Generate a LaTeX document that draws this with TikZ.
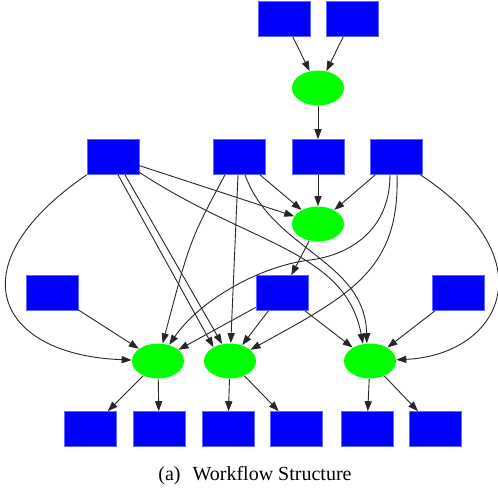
\documentclass[tikz,border=0pt]{standalone}
\usepackage{fontspec}
\setmainfont{Liberation Serif}
\usetikzlibrary{shapes.geometric,arrows.meta,calc}

\tikzset{
  data/.style={rectangle,fill=blue,draw=blue!60!white,line width=0.3pt,
    minimum width=26pt,minimum height=17.5pt,inner sep=0pt},
  job/.style={ellipse,fill=green,minimum width=26pt,minimum height=17.5pt,inner sep=0pt},
  dep/.style={-{Triangle[length=5pt,width=3.6pt]},line width=0.45pt,black!85}
}

\begin{document}
\begin{tikzpicture}[x=0.5pt,y=-0.5pt]
  \useasboundingbox (0,0) rectangle (498,489);

  %inputs
  \node[data] (t1) at (284,19) {};
  \node[data] (t2) at (352,19) {};
  \node[job]  (j0) at (318,88) {};

  %second level
  \node[data] (a1) at (113,157) {};
  \node[data] (a2) at (239,157) {};
  \node[data] (a3) at (318,157) {};
  \node[data] (a4) at (396,157) {};
  \node[job]  (j1) at (318,224) {};

  %third level
  \node[data] (b1) at (52,293) {};
  \node[data] (b2) at (282,293) {};
  \node[data] (b3) at (458,293) {};

  \node[job] (j2) at (158,361) {};
  \node[job] (j3) at (230,361) {};
  \node[job] (j4) at (370,361) {};

  %outputs
  \node[data] (o1) at (90,429) {};
  \node[data] (o2) at (159,429) {};
  \node[data] (o3) at (228,429) {};
  \node[data] (o4) at (296,429) {};
  \node[data] (o5) at (367,429) {};
  \node[data] (o6) at (435,429) {};

  \draw[dep] (t1) -- (j0);
  \draw[dep] (t2) -- (j0);
  \draw[dep] (j0) -- (a3);
  \draw[dep] (a3) -- (j1);
  \draw[dep] (a4) -- (j1);
  \draw[dep] (a2) -- (j1);
  \draw[dep] (a1) -- (j1);
  \draw[dep] (j1) -- (b2);

  %from a1
  \draw[dep] ($(a1.south)+(5,0)$) -- (j3.140);
  \draw[dep] ($(a1.south)+(12,0)$) -- (j3.115);
  \draw[dep] (a1.south west) .. controls (-45,265) and (-5,355) .. (j2);
  \draw[dep] ($(a1.south east)+(0,-2.5)$) .. controls (250,245) and (345,250) .. (j4.112);

  %from a2
  \draw[dep] ($(a2.south)+(-14,0)$) .. controls (190,240) .. (j2);
  \draw[dep] ($(a2.south)+(-1,0)$) -- (j3);
  \draw[dep] ($(a2.south)+(6,0)$) .. controls (272,250) and (365,260) .. (j4.100);

  %from a4
  \draw[dep] ($(a4.south)+(-6,0)$) .. controls (390,230) and (350,255) .. (310,260)
    .. controls (260,266) and (200,300) .. (j2);
  \draw[dep] ($(a4.south)+(1,0)$) .. controls (400,270) and (350,295) .. (j3);
  \draw[dep] ($(a4.south east)+(-2,0)$) .. controls (550,260) and (500,355) .. (j4);

  %third level to jobs
  \draw[dep] (b1) -- (j2);
  \draw[dep] (b2) -- (j2);
  \draw[dep] (b2) -- (j3);
  \draw[dep] (b2) -- (j4);
  \draw[dep] (b3) -- (j4);

  %jobs to outputs
  \draw[dep] (j2) -- (o1);
  \draw[dep] (j2) -- (o2);
  \draw[dep] (j3) -- (o3);
  \draw[dep] (j3) -- (o4);
  \draw[dep] (j4) -- (o5);
  \draw[dep] (j4) -- (o6);

  \node (cap) at (255,476) {(a)\hspace{0.6em}Workflow Structure};
\end{tikzpicture}
\end{document}
